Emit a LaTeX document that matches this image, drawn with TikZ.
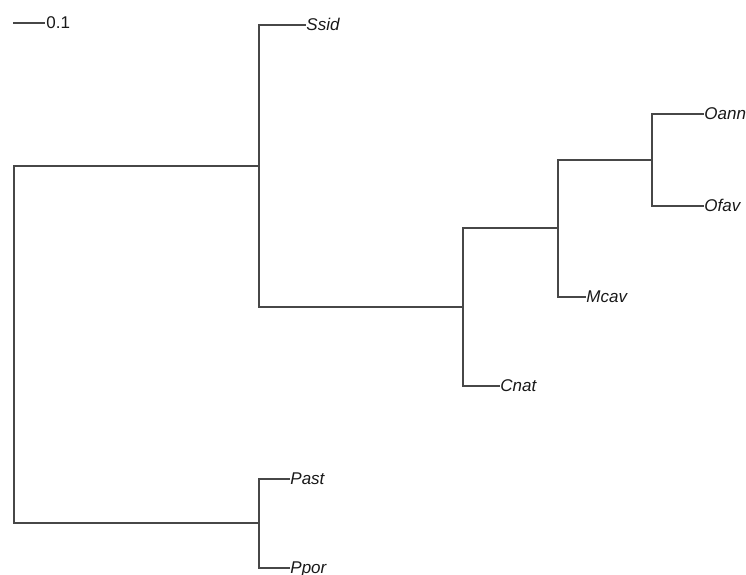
\documentclass[tikz,border=0pt]{standalone}
\usepackage{fontspec}
\setmainfont{Liberation Sans}
\begin{document}
\begin{tikzpicture}[x=1pt,y=-1pt,
  branch/.style={draw=black!72,line width=1.5pt,line cap=rect},
  taxon/.style={font=\fontsize{17}{19}\selectfont\itshape,inner sep=0pt,anchor=base west,text=black!90},
  scalelbl/.style={font=\fontsize{17}{19}\selectfont,inner sep=0pt,anchor=base west,text=black!90}]
\path[use as bounding box] (0,0) rectangle (746,574);

\begin{scope}[shift={(0.25,0.25)}]
% internal nodes
\coordinate (root) at (13.5,343.5);
\coordinate (nA) at (258.5,165.5);
\coordinate (nB) at (462.5,306.5);
\coordinate (nC) at (557.5,227.5);
\coordinate (nD) at (651.5,159.5);
\coordinate (nE) at (258.5,522.5);

% tips
\coordinate (tSsid) at (305,24.5);
\coordinate (tOann) at (703,113.5);
\coordinate (tOfav) at (703,205.5);
\coordinate (tMcav) at (585,296.5);
\coordinate (tCnat) at (499,385.5);
\coordinate (tPast) at (289,478.5);
\coordinate (tPpor) at (289,567.5);

% branches
\draw[branch] (nA) -| (root) |- (nE);
\draw[branch] (tSsid) -| (nA) |- (nB);
\draw[branch] (nC) -| (nB) |- (tCnat);
\draw[branch] (nD) -| (nC) |- (tMcav);
\draw[branch] (tOann) -| (nD) |- (tOfav);
\draw[branch] (tPast) -| (nE) |- (tPpor);

% taxon labels
\node[taxon] (lSsid) at ([xshift=1pt,yshift=-5.5pt]tSsid) {Ssid};
\node[taxon] (lOann) at ([xshift=1pt,yshift=-5.5pt]tOann) {Oann};
\node[taxon] (lOfav) at ([xshift=1pt,yshift=-5.5pt]tOfav) {Ofav};
\node[taxon] (lMcav) at ([xshift=1pt,yshift=-5.5pt]tMcav) {Mcav};
\node[taxon] (lCnat) at ([xshift=1pt,yshift=-5.5pt]tCnat) {Cnat};
\node[taxon] (lPast) at ([xshift=1pt,yshift=-5.5pt]tPast) {Past};
\node[taxon] (lPpor) at ([xshift=1pt,yshift=-5.5pt]tPpor) {Ppor};

% scale bar
\coordinate (sbL) at (13,22.5);
\coordinate (sbR) at (44,22.5);
\draw[branch] (sbL) -- (sbR);
\node[scalelbl] (sbT) at ([xshift=2pt,yshift=-5.5pt]sbR) {0.1};
\end{scope}
\end{tikzpicture}
\end{document}
